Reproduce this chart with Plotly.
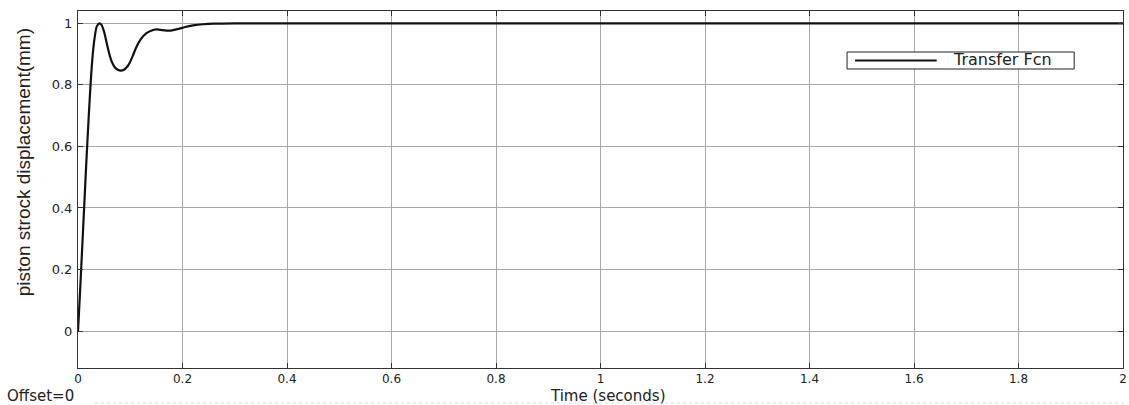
import plotly.graph_objects as go

# Step response data (time in seconds, displacement in mm)
time_s = [0, 0.004, 0.008, 0.012, 0.016, 0.020, 0.024, 0.028, 0.032, 0.036, 0.041,
          0.045, 0.050, 0.055, 0.060, 0.064, 0.070, 0.076, 0.082, 0.088, 0.094,
          0.099, 0.105, 0.112, 0.120, 0.131, 0.140, 0.150, 0.162, 0.175, 0.190,
          0.205, 0.220, 0.240, 0.260, 0.300, 0.400, 0.600, 1.000, 1.500, 2.000]
displacement = [0, 0.13, 0.27, 0.41, 0.55, 0.68, 0.80, 0.895, 0.955, 0.99, 1.000,
                0.995, 0.972, 0.935, 0.900, 0.878, 0.858, 0.849, 0.846, 0.849, 0.859,
                0.872, 0.895, 0.924, 0.948, 0.968, 0.976, 0.980, 0.978, 0.976, 0.981,
                0.988, 0.993, 0.997, 0.999, 1.0, 1.0, 1.0, 1.0, 1.0, 1.0]

x_ticks = [0, 0.2, 0.4, 0.6, 0.8, 1, 1.2, 1.4, 1.6, 1.8, 2]
x_tick_labels = ["0", "0.2", "0.4", "0.6", "0.8", "1", "1.2", "1.4", "1.6", "1.8", "2"]
y_ticks = [0, 0.2, 0.4, 0.6, 0.8, 1]
y_tick_labels = ["0", "0.2", "0.4", "0.6", "0.8", "1"]
series_name = "Transfer Fcn"

# layout geometry helpers (pixel -> paper)
W, H = 1129, 405
ML, MR, MT, MB = 78, 2, 11, 37
PW, PH = W - ML - MR, H - MT - MB


def px(x):
    return (x - ML) / PW


def py(y):
    return (H - MB - y) / PH


fig = go.Figure()
fig.add_trace(go.Scatter(
    x=time_s, y=displacement, mode="lines", name=series_name, showlegend=False,
    line=dict(color="#111111", width=2.2, shape="spline", smoothing=0.8),
))

axis_common = dict(
    showline=True, linecolor="#333333", linewidth=1, mirror="ticks",
    ticks="inside", ticklen=5, tickcolor="#333333", tickwidth=1,
    showgrid=True, gridcolor="#a8a8a8", gridwidth=1, zeroline=False,
    ticklabeloverflow="allow",
)

fig.update_layout(
    width=W, height=H,
    margin=dict(l=ML, r=MR, t=MT, b=MB),
    paper_bgcolor="white", plot_bgcolor="white",
    xaxis=dict(range=[0, 2], tickvals=x_ticks, ticktext=x_tick_labels,
               ticklabelstandoff=0,
               tickfont=dict(family="DejaVu Sans", size=12, color="#222222"),
               **axis_common),
    yaxis=dict(range=[-0.12, 1.04], tickvals=y_ticks, ticktext=y_tick_labels,
               ticklabelstandoff=2,
               tickfont=dict(family="DejaVu Sans", size=13, color="#222222"),
               **axis_common),
    showlegend=False,
    annotations=[
        dict(text="Time (seconds)", xref="paper", yref="paper",
             x=px(610), y=py(396), xanchor="center", yanchor="middle", borderpad=0,
             showarrow=False, font=dict(family="DejaVu Sans", size=15, color="#222222")),
        dict(text="piston strock displacement(mm)", xref="paper", yref="paper",
             x=px(23), y=py(162), xanchor="center", yanchor="middle",
             textangle=-90, showarrow=False,
             font=dict(family="Liberation Sans", size=19, color="#222222")),
        dict(text="Offset=0", xref="paper", yref="paper",
             x=px(6), y=py(396), xanchor="left", yanchor="middle", borderpad=0,
             showarrow=False, font=dict(family="DejaVu Sans", size=15, color="#222222")),
        # legend text
        dict(text=series_name, xref="paper", yref="paper",
             x=px(1006), y=py(60), xanchor="center", yanchor="middle",
             showarrow=False, font=dict(family="DejaVu Sans", size=16, color="#222222")),
    ],
    shapes=[
        # legend box and sample line
        dict(type="rect", xref="paper", yref="paper",
             x0=px(850), x1=px(1078), y0=py(52), y1=py(69),
             fillcolor="white", line=dict(color="#222222", width=1), layer="above"),
        dict(type="line", xref="paper", yref="paper",
             x0=px(858), x1=px(940), y0=py(60.5), y1=py(60.5),
             line=dict(color="#111111", width=2), layer="above"),
        # faint dotted line at the very bottom
        dict(type="line", xref="paper", yref="paper",
             x0=px(95), x1=px(1129), y0=py(403), y1=py(403),
             line=dict(color="#dddddd", width=1, dash="dot")),
    ],
)

fig.write_html("out.html", config={"displayModeBar": False},
               post_script="document.body.style.margin='0';document.body.style.overflow='hidden';")
